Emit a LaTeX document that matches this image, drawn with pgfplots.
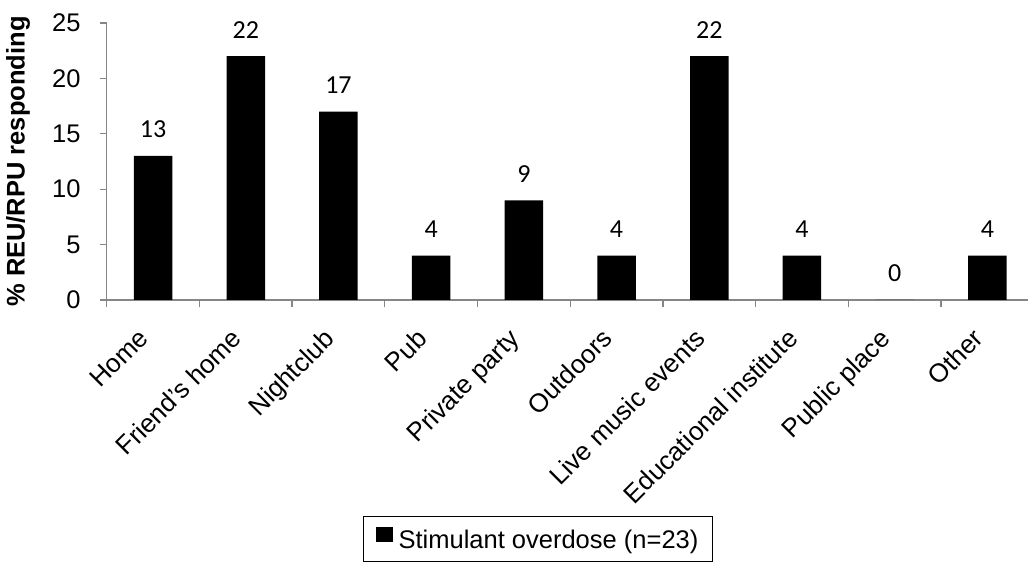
\documentclass[border=0pt]{standalone}
\usepackage{fontspec}
\setmainfont{Liberation Sans}
\newfontfamily\calib{Carlito}
\usepackage{pgfplots}
\pgfplotsset{compat=1.18}
\definecolor{axgray}{RGB}{134,134,134}
\begin{document}
\begin{tikzpicture}
\path[use as bounding box] (0,0) rectangle (1028pt,562pt);
\begin{axis}[
  at={(106.7pt,262pt)}, anchor=south west,
  scale only axis, width=927pt, height=277pt,
  ybar, bar width=38.5pt,
  xmin=-0.5, xmax=9.5, ymin=0, ymax=25,
  ytick={0,5,...,25},
  xtick={0,...,9},
  xticklabels={Home,Friend's home,Nightclub,Pub,Private party,Outdoors,Live music events,Educational institute,Public place,Other},
  minor xtick={-0.5,0.5,...,9.5},
  axis x line*=bottom, axis y line*=left,
  axis line style={axgray, line width=1.3pt, -},
  tick align=outside,
  xtick pos=bottom, ytick pos=left,
  major tick length=7pt, minor tick length=7pt,
  x tick style={draw=none},
  minor x tick style={draw=axgray, line width=1.3pt},
  y tick style={draw=axgray, line width=1.3pt},
  /pgf/number format/assume math mode=true,
  tick label style={font=\fontsize{25.5}{30}\selectfont},
  yticklabel style={inner sep=0pt, xshift=-19pt},
  xticklabel style={inner sep=0pt, xshift=-16pt, yshift=-20pt, rotate=45, anchor=north east, font=\fontsize{26}{30}\selectfont},
  ylabel={\bfseries \% REU/RPU responding},
  ylabel style={font=\fontsize{25.5}{30}\selectfont, at={(axis description cs:-0.0957,0.5)}, anchor=center},
  nodes near coords,
  every node near coord/.append style={font=\calib\fontsize{26}{30}\selectfont, inner sep=0pt, anchor=south, yshift=18pt, black},
  legend style={at={(axis description cs:0.2765,-0.78)}, anchor=north west, draw=black, line width=1.2pt,
    font=\fontsize{25.5}{30}\selectfont, inner xsep=12pt, inner ysep=10pt},
  legend image code/.code={\path[fill=none,draw=none] (0pt,0pt) rectangle (21pt,1pt);\fill[black] (0pt,-2pt) rectangle (17pt,13pt);},
  clip=false,
]
\addplot[fill=black, draw=none] coordinates {(0,13) (1,22) (2,17) (3,4) (4,9) (5,4) (6,22) (7,4) (8,0) (9,4)};
\addlegendentry{Stimulant overdose (n=23)\rule[-24pt]{0pt}{0pt}}
\end{axis}
\end{tikzpicture}
\end{document}
